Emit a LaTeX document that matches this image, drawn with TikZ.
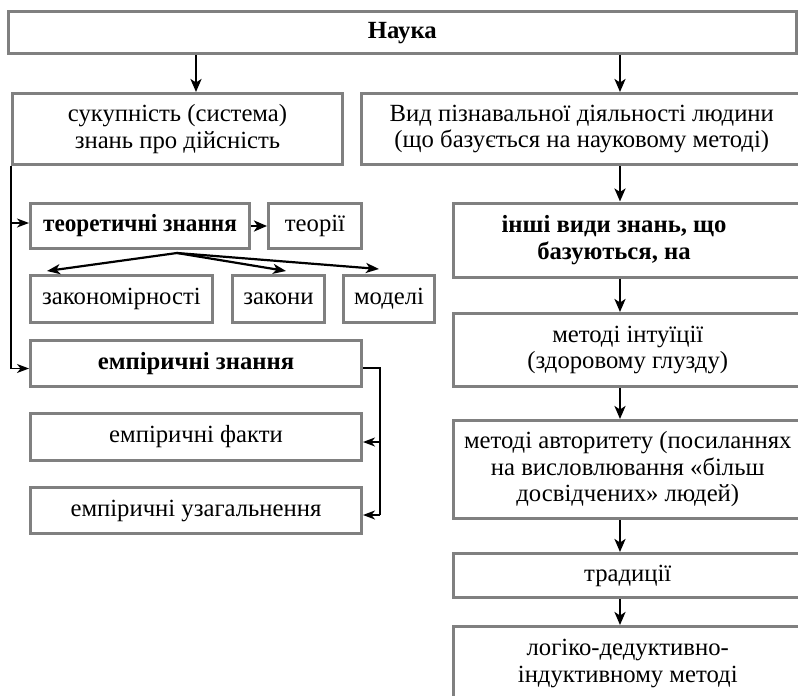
\documentclass[tikz,border=0pt]{standalone}
\usepackage{fontspec}
\setmainfont{Liberation Serif}
\usetikzlibrary{arrows.meta,calc}
\definecolor{boxgray}{RGB}{128,128,128}
\begin{document}
\begin{tikzpicture}[x=1pt,y=-1pt,
  box/.style={draw=boxgray, line width=3pt, fill=white, align=center, inner sep=0pt,
    font=\fontsize{24.7}{26.5}\selectfont},
  bbox/.style={box, font=\fontsize{24.7}{26.5}\selectfont\bfseries},
  btext/.style={align=center, inner sep=0pt, font=\fontsize{24.7}{26.5}\selectfont\bfseries},
  one/.style={text height=15pt, text depth=4pt},
  arr/.style={draw=black, line width=2.4pt, -{Stealth[length=13pt,width=11pt,inset=3.5pt]}},
  fanarr/.style={draw=black, line width=2.2pt, -{Stealth[length=13pt,width=10pt,inset=3.5pt]}},
  thinarr/.style={draw=black, line width=1.4pt, -{Stealth[length=12pt,width=9pt,inset=3.5pt]}},
  thinline/.style={draw=black, line width=1.4pt}]
\useasboundingbox (0,0) rectangle (798,696);
\clip (0,0) rectangle (798,696);
\fill[white] (0,0) rectangle (798,696);

% top
\node[bbox, one, minimum width=787.5pt, minimum height=42pt] (nauka) at (402.25,32.5) {Наука};

% left column
\node[box, minimum width=330pt, minimum height=71pt] (suk) at (177.5,129) {сукупність (система)\\знань про дійсність};
\node[bbox, one, minimum width=219pt, minimum height=45pt] (teor) at (140,226) {\scalebox{0.94}[1]{теоретичні знання}};
\node[box, one, minimum width=93pt, minimum height=45pt] (teorii) at (315,226) {теорії};
\node[box, one, minimum width=182pt, minimum height=47pt] (zkm) at (121.5,299) {закономірності};
\node[box, one, minimum width=92pt, minimum height=47pt] (zak) at (278.5,299) {закони};
\node[box, one, minimum width=91pt, minimum height=47pt] (mod) at (389,299) {моделі};
\node[bbox, one, minimum width=331pt, minimum height=46pt] (empzn) at (196,363.5) {емпіричні знання};
\node[box, one, minimum width=331pt, minimum height=47pt] (fakty) at (196,437) {емпіричні факти};
\node[box, one, minimum width=331pt, minimum height=46pt] (uzag) at (196,510.5) {емпіричні узагальнення};

% right column
\node[box, minimum width=440.5pt, minimum height=71pt] (vyd) at (581.75,129) {Вид пізнавальної діяльності людини\\(що базується на науковому методі)};
\node[bbox, minimum width=348.5pt, minimum height=74pt] (inshi) at (627.75,240) {};
\node[btext] (inshitext) at (614,240) {інші види знань, що\\базуються, на};
\node[box, minimum width=348.5pt, minimum height=73pt] (intuit) at (627.75,350) {методі інтуїції\\(здоровому глузду)};
\node[box, minimum width=348.5pt, minimum height=98pt] (avtor) at (627.75,469.5) {методі авторитету (посиланнях\\на висловлювання «більш\\досвідчених» людей)};
\node[box, one, minimum width=348.5pt, minimum height=44pt] (trad) at (627.75,575.5) {традиції};
\node[box, minimum width=348.5pt, minimum height=74pt] (logic) at (627.75,663.5) {логіко-дедуктивно-\\індуктивному методі};

% helper coordinates
\coordinate (lx) at (196,0);
\coordinate (rx) at (620,0);
\coordinate (rb) at (380,0);
\coordinate (fan) at (177,253);

% main arrows
\draw[arr] (nauka.south -| lx) -- (suk.north -| lx);
\draw[arr] (nauka.south -| rx) -- (vyd.north -| rx);
\draw[arr] (vyd.south -| rx) -- (inshi.north -| rx);
\draw[arr] (inshi.south -| rx) -- (intuit.north -| rx);
\draw[arr] (intuit.south -| rx) -- (avtor.north -| rx);
\draw[arr] (avtor.south -| rx) -- (trad.north -| rx);
\draw[arr] (trad.south -| rx) -- (logic.north -| rx);

% left bracket
\draw[thinline] (suk.south west) -- (suk.south west |- {$(empzn.west)+(0,5)$});
\draw[thinarr] (suk.south west |- {$(teor.west)+(0,-3)$}) -- ($(teor.west)+(0,-3)$);
\draw[thinarr] (suk.south west |- {$(empzn.west)+(0,5)$}) -- ($(empzn.west)+(0,5)$);

% theory arrows
\draw[arr] (teor.east) -- (teorii.west);
\draw[fanarr] (fan) -- ($(zkm.north west)+(18,-3)$);
\draw[fanarr] (fan) -- ($(zak.north west)+(55,-3)$);
\draw[fanarr] (fan) -- ($(mod.north west)+(37,-5)$);

% right bracket
\draw[thinline] ($(empzn.east)+(0,4.5)$) -| ($(uzag.east -| rb)+(0,4.5)$);
\draw[thinarr] ($(fakty.east -| rb)+(0,5)$) -- ($(fakty.east)+(0,5)$);
\draw[thinarr] ($(uzag.east -| rb)+(0,4.5)$) -- ($(uzag.east)+(0,4.5)$);
\end{tikzpicture}
\end{document}
